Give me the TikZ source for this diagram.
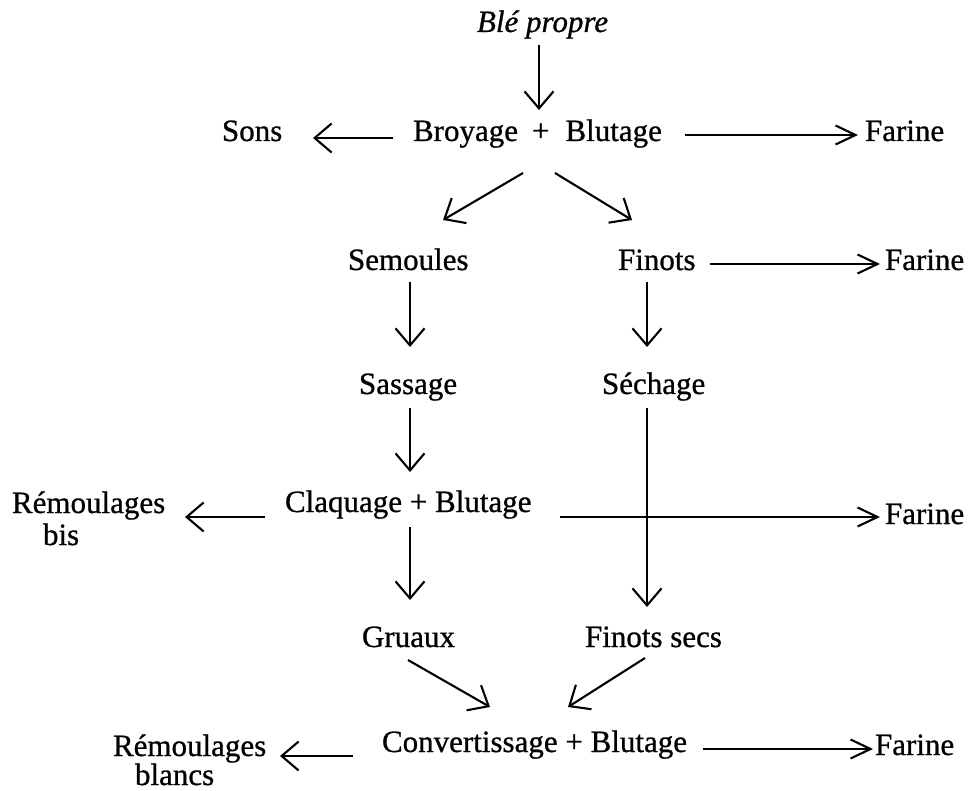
\documentclass[tikz,border=0pt]{standalone}
\usepackage{fontspec}
\setmainfont{Liberation Serif}[FakeBold=0.8]
\usetikzlibrary{arrows.meta,calc}
\begin{document}
\begin{tikzpicture}[x=1pt,y=-1pt,
  lbl/.style={anchor=base west,inner sep=0pt,outer sep=0pt,font=\fontsize{31pt}{36pt}\selectfont},
  arr/.style={line width=2.1pt,-{Straight Barb[length=17pt,width=29pt,line width=2.1pt]}},
  farr/.style={line width=2.1pt,-{Straight Barb[length=20pt,width=19pt,line width=2.1pt]}}]
\useasboundingbox[fill=white] (0,0) rectangle (969,791);
% nodes
\node[lbl] (ble) at (477,32) {\itshape Blé propre};
\node[lbl] (broy) at (413,141) {Broyage\hspace{14pt}+\hspace{16pt}Blutage};
\node[lbl] (sons) at (222,141) {Sons};
\node[lbl] (far1) at (865,141) {Farine};
\node[lbl] (sem) at (348,270) {Semoules};
\node[lbl] (fin) at (618,270) {Finots};
\node[lbl] (far2) at (885,270) {Farine};
\node[lbl] (sas) at (359,394) {Sassage};
\node[lbl] (sec) at (602,394) {Séchage};
\node[lbl] (claq) at (285,512) {Claquage + Blutage};
\node[lbl] (rem1) at (12,513) {Rémoulages};
\node[lbl] (rem1b) at (43,545) {bis};
\node[lbl] (far3) at (885,524) {Farine};
\node[lbl] (gru) at (362,647) {Gruaux};
\node[lbl] (fsec) at (585,647) {Finots secs};
\node[lbl] (conv) at (382,752) {Convertissage + Blutage};
\node[lbl] (rem2) at (113,756) {Rémoulages};
\node[lbl] (rem2b) at (135,785) {blancs};
\node[lbl] (far4) at (875,755) {Farine};
% connectors
\draw[arr] ($(ble.base west)+(62,13)$) -- ($(broy.base west)+(126,-31)$);
\draw[arr] ($(broy.base west)+(-20,-3)$) -- ($(sons.base west)+(91,-3)$);
\draw[farr] ($(broy.base west)+(272,-6)$) -- ($(far1.base west)+(-7,-6)$);
\draw[arr] ($(broy.base west)+(110,32)$) -- ($(sem.base west)+(95,-50)$);
\draw[arr] ($(broy.base west)+(142,32)$) -- ($(fin.base west)+(14,-50)$);
\draw[arr] ($(sem.base west)+(62,12)$) -- ($(sas.base west)+(51,-47)$);
\draw[arr] ($(fin.base west)+(29,12)$) -- ($(sec.base west)+(45,-47)$);
\draw[farr] ($(fin.base west)+(92,-6)$) -- ($(far2.base west)+(-5,-6)$);
\draw[arr] ($(sas.base west)+(51,14)$) -- ($(claq.base west)+(125,-40)$);
\draw[arr] ($(sec.base west)+(45,14)$) -- ($(fsec.base west)+(62,-40)$);
\draw[arr] ($(claq.base west)+(-20,5)$) -- ($(rem1.base west)+(173,4)$);
\draw[farr] ($(claq.base west)+(275,5)$) -- ($(far3.base west)+(-5,-7)$);
\draw[arr] ($(claq.base west)+(125,15)$) -- ($(gru.base west)+(48,-47)$);
\draw[arr] ($(gru.base west)+(46,13)$) -- ($(conv.base west)+(108,-45)$);
\draw[arr] ($(fsec.base west)+(60,11)$) -- ($(conv.base west)+(186,-45)$);
\draw[arr] ($(conv.base west)+(-29,4)$) -- ($(rem2.base west)+(167,0)$);
\draw[farr] ($(conv.base west)+(321,-3)$) -- ($(far4.base west)+(-2,-6)$);
\end{tikzpicture}
\end{document}
